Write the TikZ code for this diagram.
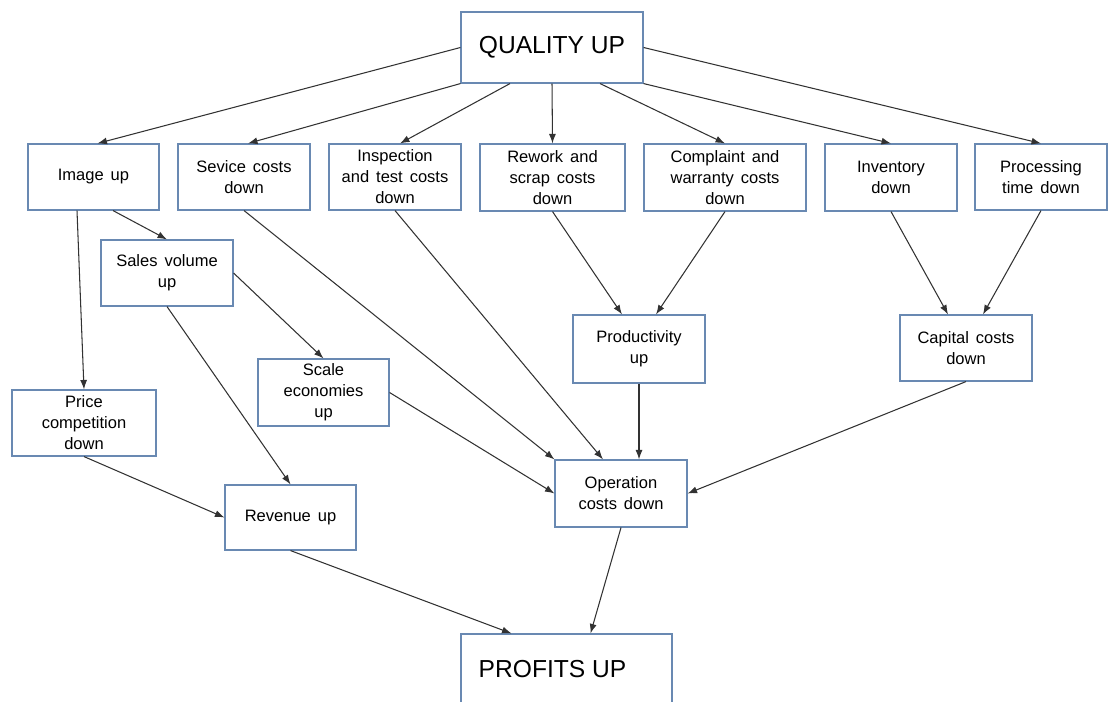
\documentclass[tikz,border=0pt]{standalone}
\usepackage{fontspec}
\setmainfont{Liberation Sans}
\usetikzlibrary{arrows.meta,calc,positioning}
\tikzset{>={Latex[length=1.9mm,width=1.4mm]}}
\definecolor{boxblue}{RGB}{105,137,178}
\definecolor{arrowgray}{RGB}{50,50,50}
\newcommand{\boxfont}{\fontsize{9.4}{12}\selectfont\spaceskip=0.42em\relax}
\tikzset{
  blk/.style={draw=boxblue, line width=0.65pt, fill=white, align=center, inner sep=0pt,
    minimum width=2.64cm, minimum height=1.32cm, font=\boxfont},
  bigblk/.style={blk, minimum width=3.64cm, minimum height=1.42cm,
    font=\fontsize{14}{16}\selectfont},
  link/.style={->, draw=arrowgray, line width=0.6pt}
}

\begin{document}
\begin{tikzpicture}[x=0.02cm, y=-0.02cm]
  \useasboundingbox (0,0) rectangle (1114,702);
  \clip (0,0) rectangle (1114,702);
  % top and bottom
  \node[bigblk] (quality) at (552,47.5) {QUALITY UP};
  \node[bigblk, minimum width=4.22cm] (profits) at (566.5,669.5) {PROFITS UP\hspace*{0.56cm}};
  % first row
  \node[blk, minimum width=2.62cm] (image) at (93.5,177) {Image up};
  \node[blk] (service) at (244,177) {Sevice costs\\down};
  \node[blk] (inspect) at (395,177) {Inspection\\and test costs\\down};
  \node[blk, minimum width=2.9cm, minimum height=1.34cm] (rework) at (552.5,177.5) {Rework and\\scrap costs\\down};
  \node[blk, minimum width=3.24cm, minimum height=1.34cm] (complaint) at (725,177.5) {Complaint and\\warranty costs\\down};
  \node[blk, minimum height=1.34cm] (inventory) at (891,177.5) {Inventory\\down};
  \node[blk] (processing) at (1041,177) {Processing\\time down};
  % middle
  \node[blk] (sales) at (167,273) {Sales volume\\up};
  \node[blk, minimum height=1.36cm] (productivity) at (639,349) {Productivity\\up};
  \node[blk] (capital) at (966,348) {Capital costs\\down};
  \node[blk, minimum width=2.62cm, minimum height=1.34cm] (scale) at (323.5,392.5) {Scale\\economies\\up};
  \node[blk, minimum width=2.88cm] (price) at (84,423) {Price\\competition\\down};
  \node[blk, minimum height=1.34cm] (operation) at (621,493.5) {Operation\\costs down};
  \node[blk, minimum width=2.62cm, minimum height=1.3cm] (revenue) at (290.5,517.5) {Revenue up};

  % quality up
  \draw[link] (quality.west) -- ($(image.north)+(4,0)$);
  \draw[link] (quality.south west) -- ($(service.north)+(4,0)$);
  \draw[link] ($(quality.south)+(-42,0)$) -- ($(inspect.north)+(5,0)$);
  \draw[link] (quality.south) -- (rework.north);
  \draw[link] ($(quality.south)+(48,0)$) -- (complaint.north);
  \draw[link] (quality.south east) -- (inventory.north);
  \draw[link] (quality.east) -- (processing.north);
  % left side
  \draw[link] ($(image.south)+(19.5,0)$) -- (sales.north);
  \draw[link] ($(image.south)+(-16.5,0)$) -- (price.north);
  \draw[link] (sales.south) -- (revenue.north);
  \draw[link] (sales.east) -- (scale.north);
  \draw[link] (price.south) -- (revenue.west);
  % costs
  \draw[link] (service.south) -- (operation.north west);
  \draw[link] (inspect.south) -- ($(operation.north)+(-18,0)$);
  \draw[link] (scale.east) -- (operation.west);
  \draw[link] (productivity.south) -- (productivity.south |- operation.north);
  \draw[link] (capital.south) -- (operation.east);
  \draw[link] (rework.south) -- ($(productivity.north)+(-17,0)$);
  \draw[link] (complaint.south) -- ($(productivity.north)+(17,0)$);
  \draw[link] (inventory.south) -- ($(capital.north)+(-18,0)$);
  \draw[link] (processing.south) -- ($(capital.north)+(17,0)$);
  % profits
  \draw[link] (revenue.south) -- ($(profits.north)+(-55,0)$);
  \draw[link] (operation.south) -- ($(profits.north)+(24,0)$);
\end{tikzpicture}
\end{document}
